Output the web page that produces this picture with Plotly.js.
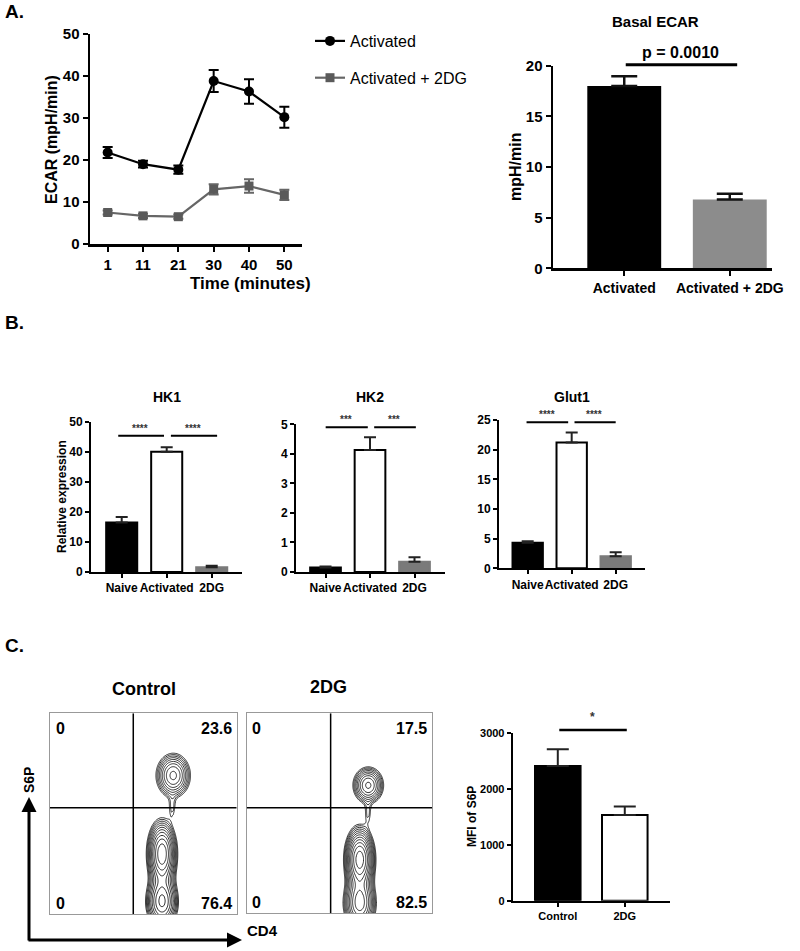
<!DOCTYPE html>
<html><head><meta charset="utf-8">
<script src="https://cdn.plot.ly/plotly-3.0.1.min.js"></script>
<style>html,body{margin:0;padding:0;background:#fff}#chart{width:800px;height:951px}</style>
</head><body><div id="chart"></div>
<script>
// ---------- DATA ----------
// Panel A: ECAR time course
const timeLabels = ['1', '11', '21', '30', '40', '50'];
const ecarActivated = [21.8, 19.0, 17.7, 38.8, 36.3, 30.2];
const ecarActivatedErr = [1.3, 0.8, 1.0, 2.6, 2.9, 2.5];
const ecar2DG = [7.5, 6.7, 6.5, 13.0, 13.8, 11.7];
const ecar2DGErr = [0.5, 0.5, 0.5, 1.2, 1.6, 1.2];
const seriesNames = ['Activated', 'Activated + 2DG'];
const oligoAt = '21';
const oligoLineTop = 42.6;

// Panel A: Basal ECAR
const basalCats = ['Activated', 'Activated + 2DG'];
const basalVals = [18.0, 6.8];
const basalErr = [0.95, 0.55];
const basalPText = 'p = 0.0010';
const basalPLine = [0.0, 1.07, 20.1];

// Panel B: qPCR
const qpcrCats = ['Naive', 'Activated', '2DG'];
const hk1Vals = [16.5, 40.0, 1.6];
const hk1Err = [1.8, 1.5, 0.45];
const hk2Vals = [0.15, 4.13, 0.35];
const hk2Err = [0.04, 0.43, 0.15];
const glut1Vals = [4.3, 21.2, 2.05];
const glut1Err = [0.25, 1.7, 0.65];
const hk1Sig = [[-0.11, 0.94, 45.3, '****'], [1.06, 2.12, 45.3, '****']];
const hk2Sig = [[-0.03, 0.95, 4.9, '***'], [1.06, 2.03, 4.9, '***']];
const glut1Sig = [[-0.06, 0.92, 24.6, '****'], [1.03, 2.0, 24.6, '****']];

// Panel C: flow cytometry (populations as centre / spread / weight)
const ctrlQuadLabels = ['0', '23.6', '0', '76.4'];
const dgQuadLabels = ['0', '17.5', '0', '82.5'];
const ctrlGateX = 0.446, ctrlGateY = 0.53;
const dgGateX = 0.453, dgGateY = 0.528;
const ctrlPopX = [0.66, 0.60, 0.60, 0.655];
const ctrlPopY = [0.69, 0.30, 0.06, 0.53];
const ctrlPopSX = [0.05, 0.04, 0.045, 0.015];
const ctrlPopSY = [0.06, 0.085, 0.07, 0.04];
const ctrlPopW = [0.236, 0.45, 0.30, 0.01];
const dgPopX = [0.656, 0.61, 0.61, 0.655];
const dgPopY = [0.64, 0.27, 0.05, 0.50];
const dgPopSX = [0.045, 0.04, 0.045, 0.015];
const dgPopSY = [0.05, 0.08, 0.07, 0.04];
const dgPopW = [0.175, 0.50, 0.325, 0.01];

// Panel C: MFI of S6P
const s6pCats = ['Control', '2DG'];
const s6pVals = [2415, 1537];
const s6pErr = [300, 150];
const s6pSig = [0.0, 1.03, 3060, '*'];

// ---------- HELPERS ----------
const F = 'Arial, "Liberation Sans", Helvetica, sans-serif';
const W = 800, H = 951;
function bf(size, color) { return {family: F, size: size, color: color || '#000', weight: 'bold'}; }
function dx(a, b) { return [a / W, b / W]; }
function dy(top, bottom) { return [1 - bottom / H, 1 - top / H]; }
function px(x) { return x / W; }
function py(y) { return 1 - y / H; }
function axis(dom, o) {
  return Object.assign({domain: dom, showline: true, linecolor: '#000', linewidth: 2,
    ticks: 'outside', ticklen: 5, tickwidth: 2, tickcolor: '#000', showgrid: false,
    zeroline: false, fixedrange: true, tickangle: 0}, o);
}
function zeros(n) { return new Array(n).fill(0); }
function upErr(arr, w, th, c) {
  return {type: 'data', symmetric: false, array: arr, arrayminus: zeros(arr.length),
    visible: true, thickness: th, width: w, color: c || '#000'};
}
function densityGrid(cx, cy, sx, sy, w, n) {
  const g = [];
  for (let i = 0; i <= n; i++) g.push(i / n);
  const z = g.map(function (y) {
    return g.map(function (x) {
      let d = 0;
      for (let k = 0; k < cx.length; k++) {
        const u = (x - cx[k]) / sx[k], v = (y - cy[k]) / sy[k];
        d += w[k] / (2 * Math.PI * sx[k] * sy[k]) * Math.exp(-0.5 * (u * u + v * v));
      }
      return Math.log10(d + 1e-4);
    });
  });
  return {g: g, z: z};
}

const annotations = [];
const shapes = [];
function txt(x, y, text, font, o) {
  annotations.push(Object.assign({xref: 'paper', yref: 'paper', x: x, y: y, text: text,
    showarrow: false, font: font, xanchor: 'center', yanchor: 'middle'}, o || {}));
}
function sigBars(xa, ya, list, starSize, lw) {
  list.forEach(function (s) {
    annotations.push({xref: xa, yref: ya, axref: xa, ayref: ya, x: s[1], y: s[2], ax: s[0], ay: s[2],
      showarrow: true, arrowhead: 0, arrowwidth: lw, arrowcolor: '#000', standoff: 0, startstandoff: 0,
      text: '', font: {size: 1}});
    annotations.push({xref: xa, yref: ya, x: (s[0] + s[1]) / 2, y: s[2], text: s[3], showarrow: false,
      yanchor: 'bottom', font: bf(starSize, '#333')});
  });
}
// significance bar above the top of an axis range: y placed on the page from the axis domain
function sigAbove(xa, yDomPx, yMax, s, label, font, lw, gap) {
  const yp = py(yDomPx[1] - (yDomPx[1] - yDomPx[0]) * s[2] / yMax);
  annotations.push({xref: xa, yref: 'paper', axref: xa, ayref: 'pixel', x: s[1], y: yp, ax: s[0], ay: 0,
    showarrow: true, arrowhead: 0, arrowwidth: lw, arrowcolor: '#000', standoff: 0, startstandoff: 0,
    text: '', font: {size: 1}});
  annotations.push({xref: xa, yref: 'paper', x: (s[0] + s[1]) / 2, y: yp + gap / H, text: label,
    showarrow: false, yanchor: 'bottom', font: font});
}

// ---------- TRACES ----------
const traces = [];
traces.push({type: 'scatter', mode: 'lines+markers', x: timeLabels, y: ecarActivated, name: seriesNames[0],
  legendgroup: 'g1', xaxis: 'x', yaxis: 'y', line: {color: '#000', width: 2.2},
  marker: {symbol: 'circle', size: 10, color: '#000'},
  error_y: {type: 'data', array: ecarActivatedErr, visible: true, thickness: 2, width: 5, color: '#000'}});
traces.push({type: 'scatter', mode: 'lines+markers', x: timeLabels, y: ecar2DG, name: seriesNames[1],
  legendgroup: 'g2', xaxis: 'x', yaxis: 'y', line: {color: '#666', width: 2.2},
  marker: {symbol: 'square', size: 9, color: '#5a5a5a'},
  error_y: {type: 'data', array: ecar2DGErr, visible: true, thickness: 2, width: 5, color: '#666'}});

traces.push({type: 'bar', x: basalCats, y: basalVals, xaxis: 'x2', yaxis: 'y2', width: 0.7, showlegend: false,
  marker: {color: ['#000', '#8c8c8c'], line: {width: 0}}, error_y: upErr(basalErr, 13, 2.5, '#111')});

const bMarker = {color: ['#000', '#fff', '#7a7a7a'], line: {color: ['#000', '#000', '#7a7a7a'], width: 2}};
traces.push({type: 'bar', x: qpcrCats, y: hk1Vals, xaxis: 'x3', yaxis: 'y3', width: 0.69, showlegend: false,
  marker: bMarker, error_y: upErr(hk1Err, 6, 2, '#222')});
traces.push({type: 'bar', x: qpcrCats, y: hk2Vals, xaxis: 'x4', yaxis: 'y4', width: 0.69, showlegend: false,
  marker: bMarker, error_y: upErr(hk2Err, 6, 2, '#222')});
traces.push({type: 'bar', x: qpcrCats, y: glut1Vals, xaxis: 'x5', yaxis: 'y5', width: 0.69, showlegend: false,
  marker: bMarker, error_y: upErr(glut1Err, 6, 2, '#222')});

const ctrlD = densityGrid(ctrlPopX, ctrlPopY, ctrlPopSX, ctrlPopSY, ctrlPopW, 100);
const dgD = densityGrid(dgPopX, dgPopY, dgPopSX, dgPopSY, dgPopW, 100);
const contourCommon = {type: 'contour', showscale: false, autocontour: false, hoverinfo: 'skip',
  colorscale: [[0, '#000'], [1, '#000']],
  contours: {coloring: 'lines', start: 0.35, end: 1.5, size: 0.09, showlines: true},
  line: {width: 0.8, smoothing: 1.2}, showlegend: false};
traces.push(Object.assign({}, contourCommon, {x: ctrlD.g, y: ctrlD.g, z: ctrlD.z, xaxis: 'x6', yaxis: 'y6'}));
traces.push(Object.assign({}, contourCommon, {x: dgD.g, y: dgD.g, z: dgD.z, xaxis: 'x7', yaxis: 'y7'}));

traces.push({type: 'bar', x: s6pCats, y: s6pVals, xaxis: 'x8', yaxis: 'y8', width: 0.68, showlegend: false,
  marker: {color: ['#000', '#fff'], line: {color: '#000', width: 2}}, error_y: upErr(s6pErr, 11, 2, '#222')});

// ---------- ANNOTATIONS / SHAPES ----------
txt(px(3), py(11), 'A.', bf(19), {xanchor: 'left'});
txt(px(3), py(322), 'B.', bf(19), {xanchor: 'left'});
txt(px(3), py(645), 'C.', bf(19), {xanchor: 'left'});

// Panel A line
annotations.push({xref: 'x', yref: 'paper', x: oligoAt, y: py(39), text: 'Oligo', showarrow: false, font: bf(16)});
shapes.push({type: 'line', xref: 'x', yref: 'y', x0: oligoAt, x1: oligoAt, y0: 0, y1: oligoLineTop,
  line: {color: '#000', width: 2, dash: 'dash'}});
txt(px(250), py(284), 'Time (minutes)', bf(17));
txt(px(52), py(140), 'ECAR (mpH/min)', bf(16), {textangle: -90});

// Panel A bar
const basalYDom = [65.7, 268.3];
txt(px(655), py(22), 'Basal ECAR', bf(15));
txt(px(515), py(167), 'mpH/min', bf(16), {textangle: -90});
sigAbove('x2', basalYDom, 20, basalPLine, basalPText, bf(16), 3, 2);

// Panel B
annotations.push({xref: 'x3', yref: 'paper', x: qpcrCats[1], y: py(397), text: 'HK1', showarrow: false, font: bf(14)});
annotations.push({xref: 'x4', yref: 'paper', x: qpcrCats[1], y: py(397), text: 'HK2', showarrow: false, font: bf(14)});
annotations.push({xref: 'x5', yref: 'paper', x: qpcrCats[1], y: py(397), text: 'Glut1', showarrow: false, font: bf(14)});
txt(px(62), py(497), 'Relative expression', bf(12), {textangle: -90});
sigBars('x3', 'y3', hk1Sig, 10, 2);
sigBars('x4', 'y4', hk2Sig, 10, 2);
sigBars('x5', 'y5', glut1Sig, 10, 2);

// Panel C flow plots
txt(px(144), py(689), 'Control', bf(18));
txt(px(328), py(687), '2DG', bf(18));
function quadLabels(xa, ya, labels) {
  const pos = [[0.02, 0.975, 'left', 'top'], [0.985, 0.975, 'right', 'top'],
               [0.02, 0.0, 'left', 'bottom'], [0.985, 0.0, 'right', 'bottom']];
  labels.forEach(function (t, i) {
    annotations.push({xref: xa, yref: ya, x: pos[i][0], y: pos[i][1], xanchor: pos[i][2], yanchor: pos[i][3],
      text: t, showarrow: false, font: bf(16)});
  });
}
quadLabels('x6', 'y6', ctrlQuadLabels);
quadLabels('x7', 'y7', dgQuadLabels);
[['x6', 'y6', ctrlGateX, ctrlGateY], ['x7', 'y7', dgGateX, dgGateY]].forEach(function (g) {
  shapes.push({type: 'line', xref: g[0], yref: g[1], x0: g[2], x1: g[2], y0: 0, y1: 1, line: {color: '#000', width: 1.5}});
  shapes.push({type: 'line', xref: g[0], yref: g[1], x0: 0, x1: 1, y0: g[3], y1: g[3], line: {color: '#000', width: 1.5}});
});
// axis arrows
annotations.push({xref: 'paper', yref: 'paper', x: px(29), y: py(797), ax: 0, ay: 145, showarrow: true,
  arrowhead: 2, arrowsize: 1, arrowwidth: 3, arrowcolor: '#000', text: '', standoff: 0, startstandoff: 0});
annotations.push({xref: 'paper', yref: 'paper', x: px(242), y: py(940), ax: -215, ay: 0, showarrow: true,
  arrowhead: 2, arrowsize: 1, arrowwidth: 3, arrowcolor: '#000', text: '', standoff: 0, startstandoff: 0});
txt(px(29), py(780), 'S6P', bf(14), {textangle: -90});
txt(px(262), py(930), 'CD4', bf(15));

// Panel C bar
const s6pYDom = [733.3, 900.7];
txt(px(472), py(817), 'MFI of S6P', bf(12), {textangle: -90});
sigAbove('x8', s6pYDom, 3000, s6pSig, s6pSig[3], bf(12, '#333'), 2.5, 4);

// ---------- LAYOUT ----------
const flowAxis = function (dom, anchor) {
  return {domain: dom, anchor: anchor, range: [0, 1], showline: true, mirror: true, linecolor: '#999', linewidth: 1,
    ticks: '', showticklabels: false, showgrid: false, zeroline: false, fixedrange: true};
};
const layout = {
  width: W, height: H, margin: {l: 0, r: 0, t: 0, b: 0},
  paper_bgcolor: '#fff', plot_bgcolor: 'rgba(0,0,0,0)',
  barmode: 'overlay', font: {family: F, color: '#000'},
  showlegend: true,
  legend: {x: px(310), y: py(24), xanchor: 'left', yanchor: 'top', bgcolor: 'rgba(0,0,0,0)',
    font: {family: F, size: 16, color: '#000'}, tracegroupgap: 13, traceorder: 'grouped', itemwidth: 30},
  xaxis: axis(dx(90, 302), {anchor: 'y', type: 'category', range: [-0.5, 5.5], linewidth: 2.5, tickfont: bf(15)}),
  yaxis: axis(dy(34, 244), {anchor: 'x', range: [0, 50], dtick: 10, linewidth: 2.5, tickfont: bf(15)}),
  xaxis2: axis(dx(553, 772), {anchor: 'y2', type: 'category', range: [-0.675, 1.4], linewidth: 2.5, tickfont: bf(14)}),
  yaxis2: axis(dy(65.7, 268.3), {anchor: 'x2', range: [0, 20], dtick: 5, linewidth: 2.5, tickfont: bf(15)}),
  xaxis3: axis(dx(91, 242), {anchor: 'y3', type: 'category', range: [-0.682, 2.673], ticklen: 4, tickfont: bf(12)}),
  yaxis3: axis(dy(421.7, 572), {anchor: 'x3', range: [0, 50], dtick: 10, ticklen: 4, tickfont: bf(12)}),
  xaxis4: axis(dx(296, 445), {anchor: 'y4', type: 'category', range: [-0.663, 2.685], ticklen: 4, tickfont: bf(12)}),
  yaxis4: axis(dy(424.3, 572), {anchor: 'x4', range: [0, 5], dtick: 1, ticklen: 4, tickfont: bf(12)}),
  xaxis5: axis(dx(499, 645), {anchor: 'y5', type: 'category', range: [-0.652, 2.666], ticklen: 4, tickfont: bf(12)}),
  yaxis5: axis(dy(420, 568.3), {anchor: 'x5', range: [0, 25], dtick: 5, ticklen: 4, tickfont: bf(12)}),
  xaxis6: flowAxis(dx(50, 236.7), 'y6'),
  yaxis6: flowAxis(dy(713.3, 914), 'x6'),
  xaxis7: flowAxis(dx(246.7, 432), 'y7'),
  yaxis7: flowAxis(dy(713.3, 913.3), 'x7'),
  xaxis8: axis(dx(512.7, 670), {anchor: 'y8', type: 'category', range: [-0.673, 1.675], ticklen: 4, tickfont: bf(11)}),
  yaxis8: axis(dy(733.3, 900.7), {anchor: 'x8', range: [0, 3000], dtick: 1000, ticklen: 4, tickfont: bf(11)}),
  annotations: annotations, shapes: shapes
};
Plotly.newPlot('chart', traces, layout, {staticPlot: true, displayModeBar: false});
</script>
</body></html>
